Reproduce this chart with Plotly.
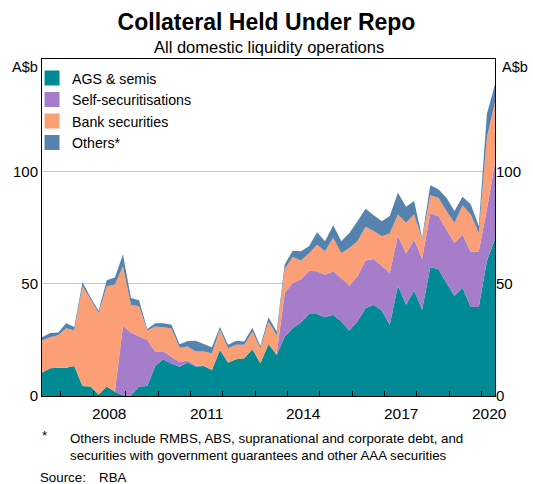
import pandas as pd
import plotly.graph_objects as go

# Quarterly observations, June 2006 to June 2020
dates = pd.date_range("2006-06-01", periods=57, freq="3MS")

ags_semis = [10.4, 12.4, 12.6, 12.6, 13.4, 4.5, 4.2, 0.7, 4.2, 1.9,
             0.3, 0.2, 4.2, 4.5, 13.5, 16.2, 14.5, 13.0, 14.9, 13.1,
             13.4, 11.6, 20.5, 14.9, 16.4, 16.8, 20.8, 14.6, 23.2, 18.3,
             26.5, 30.2, 32.7, 36.5, 36.5, 35.1, 36.2, 33.2, 29.2, 33.2,
             39.1, 40.6, 38.0, 31.7, 49.1, 40.6, 47.0, 38.4, 57.3, 56.5,
             50.3, 44.6, 48.1, 39.6, 39.6, 60.0, 70.0]
self_securitisations = [0, 0, 0, 0, 0, 0, 0, 0, 0, 0,
                        30.9, 28.1, 22.3, 20.5, 6.1, 3.7, 3.0, 2.0, 0.9, 0.5,
                        0, 0, 0, 0, 0, 0, 0, 0, 0, 0.5,
                        19.3, 20.1, 19.1, 19.3, 19.0, 18.9, 19.3, 19.3, 19.9, 20.1,
                        21.2, 20.4, 20.0, 23.1, 22.3, 22.8, 22.6, 22.6, 24.0, 23.6,
                        23.8, 23.6, 23.8, 24.5, 24.8, 23.0, 33.9]
bank_securities = [14.3, 13.8, 14.4, 17.6, 15.8, 44.3, 39.0, 36.2, 44.6, 47.7,
                   26.5, 12.3, 13.4, 4.2, 11.3, 10.7, 12.5, 6.5, 6.2, 6.2,
                   6.4, 7.4, 9.0, 6.4, 6.4, 6.0, 7.9, 6.7, 10.0, 8.2,
                   10.7, 11.6, 8.5, 7.6, 11.8, 10.4, 14.9, 11.2, 16.8, 15.6,
                   15.0, 12.4, 13.1, 17.5, 9.4, 13.7, 11.2, 8.9, 8.0, 8.1,
                   8.2, 8.9, 12.9, 16.7, 8.2, 32.0, 26.8]
others = [1.5, 1.8, 1.3, 2.2, 1.5, 1.8, 0.8, 1.1, 2.7, 3.1,
          5.3, 3.0, 2.7, 0.6, 1.5, 1.8, 1.7, 1.5, 2.5, 4.8,
          3.4, 2.7, 1.2, 1.5, 1.8, 1.5, 1.7, 1.0, 1.9, 1.7,
          2.0, 2.8, 4.1, 3.3, 5.6, 4.5, 5.6, 5.2, 6.7, 8.9,
          8.0, 7.1, 6.7, 7.8, 9.7, 7.1, 6.0, 0.5, 4.5, 3.8,
          5.9, 5.2, 3.9, 4.5, 3.0, 10.4, 8.1]

series_names = ["AGS & semis", "Self-securitisations", "Bank securities", "Others*"]
series_values = [ags_semis, self_securitisations, bank_securities, others]
series_colors = ["#008B94", "#A67DC8", "#FB9F76", "#5583AE"]

year_ticks = [f"{y}-01-01" for y in range(2007, 2021)]
year_labels = ["2008", "2011", "2014", "2017", "2020"]
year_label_pos = ["2008-07-01", "2011-07-01", "2014-07-01", "2017-07-01", "2020-04-01"]
y_ticks = [0, 50, 100]

FONT = "Arial, Liberation Sans, sans-serif"

fig = go.Figure()
for name, vals, col in zip(series_names, series_values, series_colors):
    fig.add_trace(go.Scatter(
        x=dates, y=vals, name=name, stackgroup="one", mode="none",
        fillcolor=col, line=dict(width=0), showlegend=False,
        hoverinfo="x+y+name"))
# legend-only square swatches
for name, col in zip(series_names, series_colors):
    fig.add_trace(go.Scatter(x=[None], y=[None], name=name, mode="markers",
                             marker=dict(symbol="square", size=15, color=col),
                             showlegend=True, hoverinfo="skip"))

fig.update_layout(
    width=533, height=484,
    margin=dict(l=42, r=35, t=59, b=88),
    paper_bgcolor="white", plot_bgcolor="white",
    font=dict(family=FONT, size=15, color="black"),
    showlegend=True,
    legend=dict(x=-0.022, y=0.99, xanchor="left", yanchor="top",
                bgcolor="rgba(0,0,0,0)", font=dict(size=14.2), tracegroupgap=0,
                traceorder="normal", itemwidth=30),
    title=dict(text="<b>Collateral Held Under Repo</b>", x=0.5, xanchor="center",
               y=1 - 22 / 484, yanchor="middle", font=dict(size=23)),
    xaxis=dict(type="date", range=[dates[0], dates[-1]], tickvals=year_ticks,
               showticklabels=False, ticks="inside", ticklen=5, tickcolor="black",
               tickwidth=1, showgrid=False, showline=True, linecolor="black",
               linewidth=1, mirror=True, zeroline=False),
    yaxis=dict(range=[0, 150], tickvals=y_ticks, ticks="", showgrid=True,
               gridcolor="#C8C8C8", gridwidth=1, showline=True, linecolor="black",
               linewidth=1, mirror=True, zeroline=False, tickfont=dict(size=15)),
    yaxis2=dict(range=[0, 150], tickvals=y_ticks, ticks="", overlaying="y",
                side="right", showgrid=False, showline=False, zeroline=False,
                matches="y", tickfont=dict(size=15)),
)

# keep right axis drawn
fig.add_trace(go.Scatter(x=[None], y=[None], yaxis="y2", showlegend=False,
                         hoverinfo="skip"))

ann = []
for lab, pos in zip(year_labels, year_label_pos):
    ann.append(dict(x=pos, y=-0.052, xref="x", yref="paper", text=lab,
                    showarrow=False, xanchor="center", yanchor="middle",
                    font=dict(size=15.5)))
ann += [
    dict(x=0.5, y=1.036, xref="paper", yref="paper", text="All domestic liquidity operations",
         showarrow=False, xanchor="center", yanchor="middle", font=dict(size=16.5)),
    dict(x=-0.004, y=0.976, xref="paper", yref="paper", text="A$b",
         showarrow=False, xanchor="right", yanchor="middle", font=dict(size=14.5)),
    dict(x=1.011, y=0.976, xref="paper", yref="paper", text="A$b",
         showarrow=False, xanchor="left", yanchor="middle", font=dict(size=14.5)),
    dict(x=-0.004, y=-0.118, xref="paper", yref="paper", text="*",
         showarrow=False, xanchor="left", yanchor="middle", font=dict(size=13.3)),
    dict(x=0.057, y=-0.1505, xref="paper", yref="paper",
         text="Others include RMBS, ABS, supranational and corporate debt, and<br>"
              "securities with government guarantees and other AAA securities",
         showarrow=False, xanchor="left", yanchor="middle", align="left",
         font=dict(size=13.3)),
    dict(x=-0.009, y=-0.241, xref="paper", yref="paper", text="Source:\u2003RBA",
         showarrow=False, xanchor="left", yanchor="middle", font=dict(size=13.3)),
]
fig.update_layout(annotations=ann)

fig.write_html("out.html", config={"displayModeBar": False},
               post_script="document.body.style.margin='0';document.body.style.padding='0';")
